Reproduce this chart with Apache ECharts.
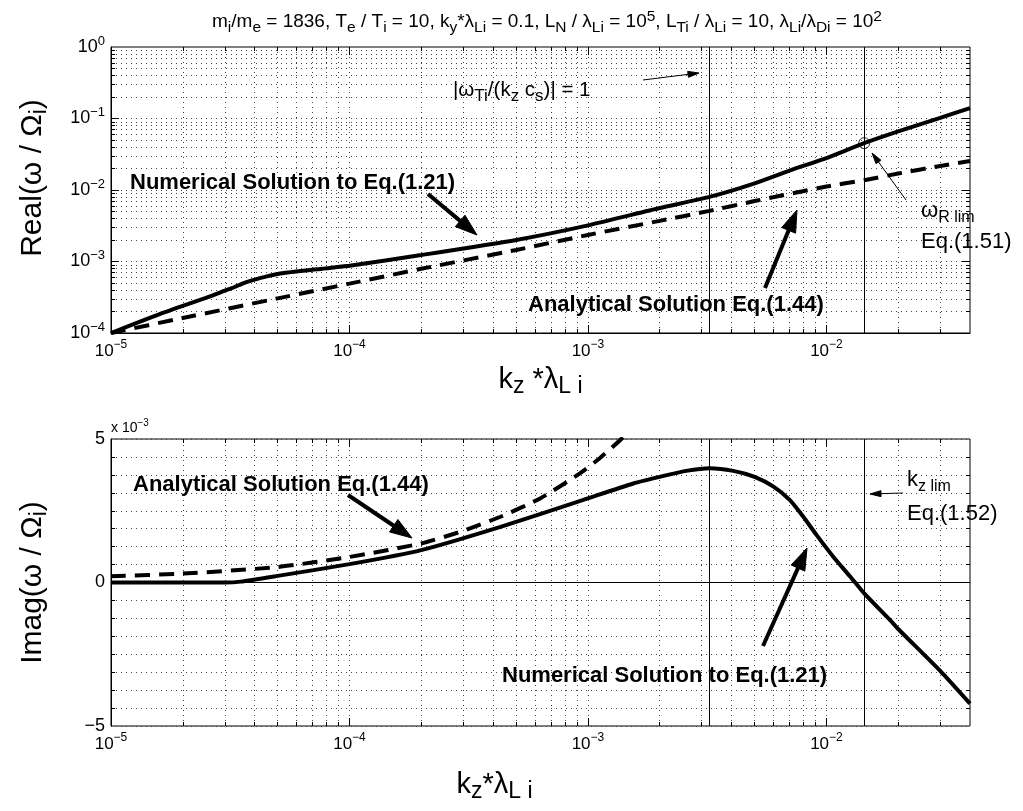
<!DOCTYPE html>
<html><head><meta charset="utf-8">
<script src="https://cdn.jsdelivr.net/npm/echarts@6/dist/echarts.min.js"></script>
<style>html,body{margin:0;padding:0;background:#fff}#c{width:1023px;height:811px}</style>
</head><body><div id="c"></div>
<script>
// ---------- data ----------
const kzRealNum   = [1e-5,1.5e-5,2e-5,2.5e-5,3e-5,3.3e-5,3.6e-5,3.9e-5,4.5e-5,5.3e-5,7.3e-5,1e-4,2e-4,5e-4,1e-3,2e-3,3.23e-3,5e-3,7e-3,1e-2,1.44e-2,2e-2,3e-2,4e-2];
const realNum     = [1.0e-4,1.7e-4,2.4e-4,3.1e-4,3.9e-4,4.4e-4,5.0e-4,5.45e-4,6.2e-4,6.9e-4,7.8e-4,8.7e-4,1.23e-3,2.0e-3,3.2e-3,5.6e-3,8.0e-3,1.24e-2,1.87e-2,2.8e-2,4.52e-2,6.6e-2,1.02e-1,1.4e-1];
const kzRealAna   = [1e-5,2e-5,5e-5,1e-4,2e-4,5e-4,1e-3,2e-3,3.23e-3,5e-3,1e-2,1.44e-2,2e-2,3e-2,4e-2];
const realAna     = [1.0e-4,1.62e-4,3.05e-4,4.9e-4,7.9e-4,1.45e-3,2.35e-3,3.7e-3,5.1e-3,7.0e-3,1.12e-2,1.37e-2,1.70e-2,2.17e-2,2.55e-2];
const kzImagNum   = [1e-5,2e-5,3e-5,3.5e-5,5e-5,1e-4,2e-4,4.3e-4,9.5e-4,1.55e-3,2.14e-3,2.58e-3,3.23e-3,4.07e-3,5e-3,6e-3,7.03e-3,8e-3,9.1e-3,1.07e-2,1.26e-2,1.44e-2,1.85e-2,2e-2,3e-2,4e-2];
const imagNum     = [0,0,0,0.03,0.23,0.64,1.13,1.94,2.87,3.45,3.74,3.89,3.98,3.89,3.68,3.34,2.87,2.29,1.65,0.89,0.20,-0.38,-1.31,-1.62,-3.08,-4.22];
const kzImagAna   = [1e-5,2e-5,5e-5,1e-4,2e-4,3e-4,4.3e-4,6.3e-4,9.25e-4,1.12e-3,1.38e-3,1.6e-3];
const imagAna     = [0.22,0.31,0.54,0.89,1.36,1.8,2.29,2.93,3.8,4.33,5.0,5.6];
const kzMarks     = [3.23e-3, 1.44e-2];
const rLimPoint   = [1.44e-2, 4.52e-2];
const xRange      = [1e-5, 0.04];
const yRealRange  = [1e-4, 1];
const yImagRange  = [-5, 5];
const yImagTicks  = 5;
const yImagMinorSplit = 8;

// ---------- layout ----------
const G0 = {left: 111, right: 53, top: 47, height: 286};
const G1 = {left: 111, right: 53, top: 439, height: 287};
const PLOT_W = 1023 - G0.left - G0.right;

// ---------- helpers ----------
const F = '"Liberation Sans", Arial, Helvetica, sans-serif';
function rs(size, sub, shift, weight) {
  return {
    n: {fontSize: size, fontFamily: F, fontWeight: weight || 'normal', color: '#000', verticalAlign: 'middle'},
    d: {fontSize: sub, fontFamily: F, fontWeight: weight || 'normal', color: '#000', padding: [shift, 0, 0, 0], verticalAlign: 'middle'},
    u: {fontSize: sub, fontFamily: F, fontWeight: weight || 'normal', color: '#000', padding: [0, 0, shift, 0], verticalAlign: 'middle'}
  };
}
function zip(a, b) { return a.map((v, i) => [v, b[i]]); }
function isDecade(v) { const l = Math.log10(v); return Math.abs(l - Math.round(l)) < 1e-6; }
function logFmt(v) {
  if (!isDecade(v)) return '';
  const e = Math.round(Math.log10(v));
  return '{n|10}{u|' + (e < 0 ? '\u2212' + (-e) : e) + '}';
}
function logGrid(lo, hi) {
  const out = [];
  for (let e = Math.floor(Math.log10(lo)); e <= Math.ceil(Math.log10(hi)); e++)
    for (let m = 1; m <= 9; m++) {
      const v = m * Math.pow(10, e);
      if (v > lo * 1.0001 && v < hi * 0.9999) out.push(v);
    }
  return out;
}
const dotStyle = {color: '#444', width: 1, type: [1, 4], opacity: 1};
const xGridVals = logGrid(xRange[0], xRange[1]);
const yGridVals = logGrid(yRealRange[0], yRealRange[1]);
const yImagMinor = [];
for (let k = 1; k < (yImagRange[1] - yImagRange[0]) / yImagTicks * yImagMinorSplit; k++)
  yImagMinor.push(yImagRange[0] + k * yImagTicks / yImagMinorSplit);

const axLabelRich = rs(17, 12, 12);
function xAxisCfg(gi, nameStr, nameGap, namePad) {
  return {
    type: 'log', gridIndex: gi, min: xRange[0], max: xRange[1], logBase: 10,
    axisLine: {lineStyle: {color: '#000', width: 1}},
    axisTick: {show: false},
    splitLine: {show: false},
    axisLabel: {formatter: logFmt, rich: axLabelRich, margin: 6, showMaxLabel: false},
    name: nameStr, nameLocation: 'middle', nameGap: nameGap,
    nameTextStyle: {rich: rs(29, 23, 14), padding: namePad}
  };
}

// reference / grid / tick lines drawn as 'lines' series in data space
function vLines(vals, yr) { return vals.map(v => ({coords: [[v, yr[0]], [v, yr[1]]]})); }
function hLines(vals, xr) { return vals.map(v => ({coords: [[xr[0], v], [xr[1], v]]})); }
function linesSeries(xi, yi, data, style, z) {
  return {type: 'lines', coordinateSystem: 'cartesian2d', xAxisIndex: xi, yAxisIndex: yi, silent: true, z: z,
    polyline: false, effect: {show: false}, lineStyle: style, data: data};
}
// tick lengths in pixels converted into data space
const TMAJ = 8, TMIN = 4;
const xDec = Math.log10(xRange[1] / xRange[0]);
const xf = px => Math.pow(10, px * xDec / PLOT_W);
const yRealDec = Math.log10(yRealRange[1] / yRealRange[0]);
const yf0 = px => Math.pow(10, px * yRealDec / G0.height);
const yd1 = px => px * (yImagRange[1] - yImagRange[0]) / G1.height;
const xTickVals = xGridVals;
function xTicksLog(yLo, yHi, fUp, fDown) {
  const out = [];
  xTickVals.forEach(v => {
    const L = isDecade(v) ? TMAJ : TMIN;
    out.push({coords: [[v, yLo], [v, fUp(yLo, L)]]});
    out.push({coords: [[v, yHi], [v, fDown(yHi, L)]]});
  });
  return out;
}
const ticks0 = xTicksLog(yRealRange[0], yRealRange[1], (y, L) => y * yf0(L), (y, L) => y / yf0(L))
  .concat(yGridVals.flatMap(w => {
    const L = isDecade(w) ? TMAJ : TMIN;
    return [{coords: [[xRange[0], w], [xRange[0] * xf(L), w]]}, {coords: [[xRange[1], w], [xRange[1] / xf(L), w]]}];
  }));
const ticks1 = xTicksLog(yImagRange[0], yImagRange[1], (y, L) => y + yd1(L), (y, L) => y - yd1(L))
  .concat(yImagMinor.flatMap(w => {
    const L = Math.abs(w % yImagTicks) < 1e-9 ? TMAJ : TMIN;
    return [{coords: [[xRange[0], w], [xRange[0] * xf(L), w]]}, {coords: [[xRange[1], w], [xRange[1] / xf(L), w]]}];
  }));

function arrow(x1, y1, x2, y2, w, hl, hw) {
  const dx = x2 - x1, dy = y2 - y1, L = Math.hypot(dx, dy), ux = dx / L, uy = dy / L;
  const bx = x2 - ux * hl, by = y2 - uy * hl, px = -uy, py = ux;
  return [
    {type: 'polyline', z: 50, shape: {points: [[x1, y1], [bx, by]]}, style: {stroke: '#000', lineWidth: w, fill: null}},
    {type: 'polygon', z: 50, shape: {points: [[x2, y2], [bx + px * hw / 2, by + py * hw / 2], [bx - px * hw / 2, by - py * hw / 2]]}, style: {fill: '#000', stroke: '#000', lineWidth: 1}}
  ];
}
function txt(x, y, text, rich, align) {
  return {type: 'text', z: 60, x: x, y: y, style: {text: text, rich: rich, textAlign: align || 'left', textVerticalAlign: 'middle', fill: '#000'}};
}

const boldR = rs(22, 17, 10, 'bold');
const normR = rs(22, 17, 12);
const graphics = [].concat(
  [txt(212, 22, '{n|m}{d|i}{n|/m}{d|e}{n| = 1836, T}{d|e}{n| / T}{d|i}{n| = 10, k}{d|y}{n|*λ}{d|Li}{n| = 0.1, L}{d|N}{n| / λ}{d|Li}{n| = 10}{u|5}{n|, L}{d|Ti}{n| / λ}{d|Li}{n| = 10, λ}{d|Li}{n|/λ}{d|Di}{n| = 10}{u|2}', rs(19, 15.5, 11))],
  [txt(130, 183, '{n|Numerical Solution to Eq.(1.21)}', boldR)],
  [txt(528, 305, '{n|Analytical Solution Eq.(1.44)}', boldR)],
  [txt(453, 90, '{n||ω}{d|Ti}{n|/(k}{d|z}{n| c}{d|s}{n|)| = 1}', rs(20.5, 17, 13))],
  [txt(921, 211, '{n|ω}{d|R lim}', rs(22, 16, 14))],
  [txt(921, 242, '{n|Eq.(1.51)}', normR)],
  [txt(133, 485, '{n|Analytical Solution Eq.(1.44)}', boldR)],
  [txt(907, 480, '{n|k}{d|z lim}', rs(22, 16, 14))],
  [txt(907, 514, '{n|Eq.(1.52)}', normR)],
  [txt(502, 676, '{n|Numerical Solution to Eq.(1.21)}', boldR)],
  [txt(111, 428, '{n|x 10}{u|\u22123}', rs(14, 10, 10))],
  arrow(428, 194, 477, 235, 4, 22, 15),
  arrow(765, 288, 797, 210, 4, 22, 15),
  arrow(348, 495, 412, 538, 4, 22, 15),
  arrow(763, 646, 807, 548, 4, 22, 15),
  arrow(643, 80, 699, 73, 1, 11, 6),
  arrow(906, 200, 872, 153, 1, 11, 6),
  arrow(903, 493, 870, 494, 1, 11, 6)
);

const solidBlack = {color: '#000', width: 1, type: 'solid', opacity: 1};
const option = {
  animation: false,
  backgroundColor: '#fff',
  grid: [
    Object.assign({show: true, borderColor: '#000', borderWidth: 1, backgroundColor: 'rgba(0,0,0,0)'}, G0),
    Object.assign({show: true, borderColor: '#000', borderWidth: 1, backgroundColor: 'rgba(0,0,0,0)'}, G1)
  ],
  xAxis: [
    xAxisCfg(0, '{n|k}{d|z}{n| *λ}{d|L i}', 28, [0, 0, 0, 0]),
    xAxisCfg(1, '{n|k}{d|z}{n|*λ}{d|L i}', 40, [0, 92, 0, 0])
  ],
  yAxis: [
    {
      type: 'log', gridIndex: 0, min: yRealRange[0], max: yRealRange[1], logBase: 10,
      axisLine: {lineStyle: {color: '#000'}},
      axisTick: {show: false},
      splitLine: {show: false},
      axisLabel: {formatter: logFmt, rich: rs(18, 13, 12), margin: 6},
      name: '{n|Real(ω / Ω}{d|i}{n|)}', nameLocation: 'middle', nameGap: 60, nameRotate: 90,
      nameTextStyle: {rich: rs(30, 23, 14), padding: [0, 0, 0, 24]}
    },
    {
      type: 'value', gridIndex: 1, min: yImagRange[0], max: yImagRange[1], interval: yImagTicks,
      axisLine: {lineStyle: {color: '#000'}},
      axisTick: {show: false},
      minorTick: {show: false, splitNumber: yImagMinorSplit},
      splitLine: {show: true, lineStyle: dotStyle},
      minorSplitLine: {show: true, lineStyle: dotStyle},
      axisLabel: {color: '#000', fontSize: 18, fontFamily: F, margin: 6,
        formatter: v => (v < 0 ? '\u2212' + (-v) : '' + v)},
      name: '{n|Imag(ω / Ω}{d|i}{n|)}', nameLocation: 'middle', nameGap: 60, nameRotate: 90,
      nameTextStyle: {rich: rs(30, 23, 14)}
    }
  ],
  graphic: graphics,
  series: [
    linesSeries(0, 0, vLines(xGridVals, yRealRange).concat(hLines(yGridVals, xRange)), dotStyle, 1),
    linesSeries(1, 1, vLines(xGridVals, yImagRange), dotStyle, 1),
    linesSeries(0, 0, ticks0, solidBlack, 2),
    linesSeries(1, 1, ticks1, solidBlack, 2),
    linesSeries(0, 0, vLines(kzMarks, yRealRange), solidBlack, 2),
    linesSeries(1, 1, vLines(kzMarks, yImagRange).concat(hLines([0], xRange)), solidBlack, 2),
    {type: 'line', name: 'Numerical (real)', xAxisIndex: 0, yAxisIndex: 0, data: zip(kzRealNum, realNum), showSymbol: false, smooth: 0.2, z: 5,
      lineStyle: {color: '#000', width: 4}},
    {type: 'line', name: 'Analytical (real)', xAxisIndex: 0, yAxisIndex: 0, data: zip(kzRealAna, realAna), showSymbol: false, smooth: 0.2, z: 5,
      lineStyle: {color: '#000', width: 4, type: [15, 9]}},
    {type: 'scatter', xAxisIndex: 0, yAxisIndex: 0, data: [rLimPoint], symbol: 'circle', symbolSize: 11, z: 6,
      itemStyle: {color: 'rgba(0,0,0,0)', borderColor: '#000', borderWidth: 1}},
    {type: 'line', name: 'Numerical (imag)', xAxisIndex: 1, yAxisIndex: 1, data: zip(kzImagNum, imagNum), showSymbol: false, smooth: 0.2, z: 5,
      lineStyle: {color: '#000', width: 4}},
    {type: 'line', name: 'Analytical (imag)', xAxisIndex: 1, yAxisIndex: 1, data: zip(kzImagAna, imagAna), showSymbol: false, smooth: 0.2, z: 5, clip: true,
      lineStyle: {color: '#000', width: 4, type: [15, 9]}}
  ]
};
const chart = echarts.init(document.getElementById('c'), null, {renderer: 'canvas'});
chart.setOption(option);
</script></body></html>
